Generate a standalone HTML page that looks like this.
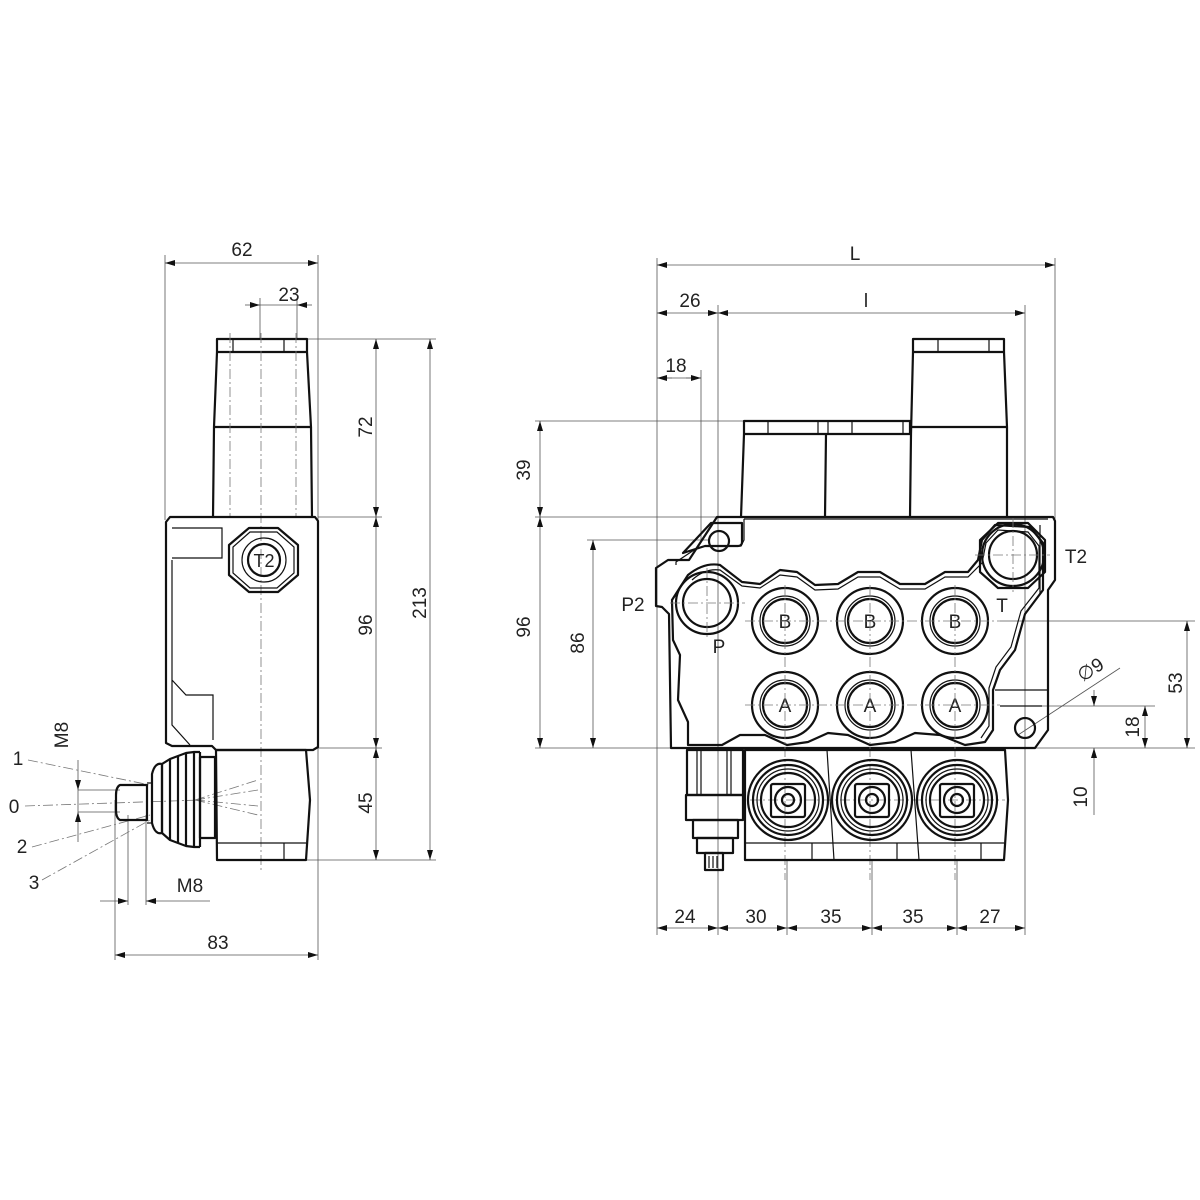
<!DOCTYPE html>
<html><head><meta charset="utf-8"><style>
html,body{margin:0;padding:0;background:#fff;}
svg{display:block}
text{font-family:"Liberation Sans","DejaVu Sans",sans-serif;font-size:19px;fill:#222;}
.o{fill:none;stroke:#111;stroke-width:2.2;stroke-linejoin:round}
.t{fill:none;stroke:#111;stroke-width:1.2}
.d{fill:none;stroke:#555;stroke-width:0.8}
.c{fill:none;stroke:#777;stroke-width:0.8;stroke-dasharray:10 3 2 3}
.w{fill:#fff;stroke:#111;stroke-width:2.2}
</style></head><body>
<svg width="1200" height="1200" viewBox="0 0 1200 1200" xmlns="http://www.w3.org/2000/svg">
<defs>
<marker id="a" viewBox="0 0 10 6" refX="10" refY="3" markerWidth="10" markerHeight="6" orient="auto-start-reverse" markerUnits="userSpaceOnUse"><path d="M0,0L10,3L0,6z" fill="#111"/></marker>
</defs>

<!-- ============ LEFT VIEW ============ -->
<!-- extension lines -->
<g class="d">
<line x1="165" y1="255" x2="165" y2="520"/>
<line x1="318" y1="255" x2="318" y2="960"/>
<line x1="260" y1="298" x2="260" y2="340"/>
<line x1="297" y1="298" x2="297" y2="340"/>
<line x1="307" y1="339" x2="436" y2="339"/>
<line x1="318" y1="517" x2="382" y2="517"/>
<line x1="318" y1="748" x2="382" y2="748"/>
<line x1="307" y1="860" x2="436" y2="860"/>
<line x1="115" y1="800" x2="115" y2="960"/>
<line x1="128" y1="815" x2="128" y2="905"/>
<line x1="146" y1="815" x2="146" y2="905"/>
</g>
<g class="d" marker-start="url(#a)" marker-end="url(#a)">
<line x1="165" y1="263" x2="318" y2="263"/>
<line x1="376" y1="339" x2="376" y2="517"/>
<line x1="376" y1="517" x2="376" y2="748"/>
<line x1="376" y1="748" x2="376" y2="860"/>
<line x1="430" y1="339" x2="430" y2="860"/>
<line x1="115" y1="955" x2="318" y2="955"/>
</g>
<g class="d">
<line x1="245" y1="305" x2="260" y2="305" marker-end="url(#a)"/>
<line x1="312" y1="305" x2="297" y2="305" marker-end="url(#a)"/>
<line x1="260" y1="305" x2="297" y2="305"/>
<line x1="100" y1="901" x2="128" y2="901" marker-end="url(#a)"/>
<line x1="210" y1="901" x2="146" y2="901" marker-end="url(#a)"/>
<line x1="78" y1="760" x2="78" y2="790" marker-end="url(#a)"/>
<line x1="78" y1="842" x2="78" y2="812" marker-end="url(#a)"/>
<line x1="78" y1="790" x2="78" y2="812"/>
<line x1="78" y1="790" x2="120" y2="790"/>
<line x1="78" y1="812" x2="120" y2="812"/>
</g>
<text x="242" y="256" text-anchor="middle">62</text>
<text x="289" y="301" text-anchor="middle">23</text>
<text transform="translate(372,427) rotate(-90)" text-anchor="middle">72</text>
<text transform="translate(372,625) rotate(-90)" text-anchor="middle">96</text>
<text transform="translate(372,803) rotate(-90)" text-anchor="middle">45</text>
<text transform="translate(426,603) rotate(-90)" text-anchor="middle">213</text>
<text x="218" y="949" text-anchor="middle">83</text>
<text x="190" y="892" text-anchor="middle">M8</text>
<text transform="translate(68,735) rotate(-90)" text-anchor="middle">M8</text>
<text x="18" y="765" text-anchor="middle">1</text>
<text x="14" y="813" text-anchor="middle">0</text>
<text x="22" y="853" text-anchor="middle">2</text>
<text x="34" y="889" text-anchor="middle">3</text>
<!-- lever lines -->
<g class="c">
<line x1="28" y1="760" x2="150" y2="785"/>
<line x1="25" y1="806" x2="200" y2="800"/>
<line x1="32" y1="847" x2="150" y2="815"/>
<line x1="42" y1="880" x2="150" y2="820"/>
<line x1="195" y1="800" x2="258" y2="780"/>
<line x1="195" y1="800" x2="258" y2="790"/>
<line x1="195" y1="800" x2="258" y2="806"/>
<line x1="195" y1="800" x2="258" y2="815"/>
</g>
<!-- top cap -->
<path class="o" d="M217,339H307V352H217Z"/>
<path class="t" d="M233,339V352M284,339V352"/>
<path class="o" d="M217,352L214,427H311L307,352"/>
<path class="o" d="M214,427L213,517M311,427L312,517"/>
<g class="c"><line x1="230" y1="333" x2="230" y2="517"/><line x1="296" y1="333" x2="296" y2="517"/><line x1="261" y1="333" x2="261" y2="870"/></g>
<!-- main body -->
<path class="o" d="M170,517H315L318,521V747L313,750H216L212,746H172L166,743V522Z"/>
<path class="t" d="M172,528H222V558H172M172,560V725L190,745M172,680L186,695H213V740"/>
<polygon class="o" points="249,528 278,528 298,545 298,575 278,592 249,592 229,575 229,545"/>
<polygon class="t" points="250,532 277,532 294,547 294,573 277,588 250,588 233,573 233,547"/>
<circle class="t" cx="264" cy="560" r="22"/>
<circle class="o" cx="264" cy="560" r="16"/>
<text x="264" y="567" text-anchor="middle" style="font-size:18px">T2</text>
<!-- lower body -->
<path class="o" d="M216,750H306L310,800L306,860H217Z"/>
<path class="t" d="M217,843H306M284,843V860"/>
<!-- boot -->
<path class="o" d="M200,757H215V838H200Z"/>
<path class="o" d="M152,774Q155,762 162,764V833Q155,835 152,823Z"/>
<path class="o" d="M162,764V833M170,759V840M178,756V843M186,753V846M194,752V847M200,752V847"/>
<path class="o" d="M162,764L170,759L178,756L186,753L194,752L200,752M162,833L170,840L178,843L186,846L194,847L200,847"/>
<path class="o" d="M120,785H147V820H120Q116,818 116,810V795Q116,787 120,785Z"/>
<path class="t" d="M147,783H152V823H147"/>

<!-- ============ RIGHT VIEW ============ -->
<g class="d">
<line x1="657" y1="258" x2="657" y2="935"/>
<line x1="1055" y1="258" x2="1055" y2="520"/>
<line x1="718" y1="305" x2="718" y2="935"/>
<line x1="1025" y1="305" x2="1025" y2="935"/>
<line x1="701" y1="370" x2="701" y2="540"/>
<line x1="535" y1="421" x2="745" y2="421"/>
<line x1="535" y1="517" x2="745" y2="517"/>
<line x1="535" y1="748" x2="1195" y2="748"/>
<line x1="587" y1="540" x2="710" y2="540"/>
<line x1="1000" y1="621" x2="1195" y2="621"/>
<line x1="1030" y1="706" x2="1155" y2="706"/>
<line x1="787" y1="860" x2="787" y2="935"/>
<line x1="872" y1="860" x2="872" y2="935"/>
<line x1="957" y1="860" x2="957" y2="935"/>
<line x1="1018" y1="735" x2="1120" y2="668"/>
</g>
<g class="d" marker-start="url(#a)" marker-end="url(#a)">
<line x1="657" y1="265" x2="1055" y2="265"/>
<line x1="657" y1="313" x2="718" y2="313"/>
<line x1="718" y1="313" x2="1025" y2="313"/>
<line x1="540" y1="421" x2="540" y2="517"/>
<line x1="540" y1="517" x2="540" y2="748"/>
<line x1="593" y1="540" x2="593" y2="748"/>
<line x1="1187" y1="621" x2="1187" y2="748"/>
<line x1="1145" y1="706" x2="1145" y2="748"/>
<line x1="657" y1="928" x2="718" y2="928"/>
<line x1="718" y1="928" x2="787" y2="928"/>
<line x1="787" y1="928" x2="872" y2="928"/>
<line x1="872" y1="928" x2="957" y2="928"/>
<line x1="957" y1="928" x2="1025" y2="928"/>
</g>
<g class="d">
<line x1="657" y1="378" x2="701" y2="378"/>
<line x1="657" y1="378" x2="672" y2="378" marker-start="url(#a)"/>
<line x1="686" y1="378" x2="701" y2="378" marker-end="url(#a)"/>
<line x1="1094" y1="697" x2="1094" y2="706" />
<line x1="1094" y1="690" x2="1094" y2="706" marker-end="url(#a)"/>
<line x1="1094" y1="815" x2="1094" y2="748" marker-end="url(#a)"/>
</g>
<text x="855" y="260" text-anchor="middle">L</text>
<text x="690" y="307" text-anchor="middle">26</text>
<text x="866" y="307" text-anchor="middle">l</text>
<text x="676" y="372" text-anchor="middle">18</text>
<text transform="translate(530,470) rotate(-90)" text-anchor="middle">39</text>
<text transform="translate(530,627) rotate(-90)" text-anchor="middle">96</text>
<text transform="translate(584,643) rotate(-90)" text-anchor="middle">86</text>
<text transform="translate(1182,683) rotate(-90)" text-anchor="middle">53</text>
<text transform="translate(1139,727) rotate(-90)" text-anchor="middle">18</text>
<text transform="translate(1087,797) rotate(-90)" text-anchor="middle">10</text>
<text transform="translate(1094,675) rotate(-33)" text-anchor="middle">∅9</text>
<text x="685" y="923" text-anchor="middle">24</text>
<text x="756" y="923" text-anchor="middle">30</text>
<text x="831" y="923" text-anchor="middle">35</text>
<text x="913" y="923" text-anchor="middle">35</text>
<text x="990" y="923" text-anchor="middle">27</text>
<text x="633" y="611" text-anchor="middle">P2</text>
<text x="1076" y="563" text-anchor="middle">T2</text>
<text x="719" y="653" text-anchor="middle">P</text>
<text x="1002" y="612" text-anchor="middle">T</text>

<!-- top blocks -->
<path class="o" d="M744,421H910V434H744Z"/>
<path class="t" d="M768,421V434M818,421V434M828,421V434M852,421V434M903,421V434"/>
<path class="o" d="M744,434L741,517M826,434L825,517M911,434L910,517"/>
<path class="o" d="M913,339H1004V352H913Z"/>
<path class="t" d="M938,339V352M989,339V352"/>
<path class="o" d="M913,352L911,434M1004,352L1007,427L1007,517M911,427H1007"/>
<!-- main body -->
<path class="o" d="M717,517H1053L1055,521V580L1048,590V730L1035,748H671L669,614L662,607L656,606V568L668,560H689L717,517Z"/>
<path class="t" d="M744,519V540L741,546H705L697,548L676,562V565"/>
<path class="t" d="M744,519H1048M1040,525V594"/>
<path class="o" d="M683,553L711,523H742V542Q742,546 738,546H705Z"/>
<circle class="o" cx="719" cy="541" r="10"/>
<!-- inner contour -->
<path class="o" d="M688,575Q704,562 720,565L742,582L760,584L780,570L797,572L815,585L838,584L858,572L880,572L900,584L925,584L945,572L968,572L978,560L982,540L995,525L1030,527L1043,543V590L1025,614L1015,650L1000,670L993,690V730L985,742L965,745L940,735L915,733L895,742L870,745L848,735L828,733L808,742L787,745L765,735L740,735L722,745H688V722L678,700L680,655L673,640L672,600Z"/>
<path class="t" d="M692,580Q705,568 720,570L742,586L760,588L780,575L797,577L815,590L838,589L858,577L880,577L900,589L925,589L945,577L968,577L982,563L986,543L998,530L1028,532L1039,546V588L1021,611L1011,647L996,667L989,688V726L981,738"/>
<path class="t" d="M995,690H1048M1000,706H1042"/>
<circle class="o" cx="1025" cy="728" r="10"/>
<!-- P and T ports -->
<circle class="o" cx="707" cy="603" r="31"/>
<circle class="o" cx="707" cy="603" r="24"/>
<polygon class="o" points="998,523 1028,523 1045,540 1045,572 1028,588 998,588 980,572 980,540"/>
<circle class="o" cx="1013" cy="555" r="31"/>
<circle class="o" cx="1013" cy="555" r="24"/>
<!-- B, A ports -->
<g>
<circle class="o" cx="785" cy="621" r="33"/><circle class="t" cx="785" cy="621" r="25"/><circle class="o" cx="785" cy="621" r="22"/>
<circle class="o" cx="870" cy="621" r="33"/><circle class="t" cx="870" cy="621" r="25"/><circle class="o" cx="870" cy="621" r="22"/>
<circle class="o" cx="955" cy="621" r="33"/><circle class="t" cx="955" cy="621" r="25"/><circle class="o" cx="955" cy="621" r="22"/>
<circle class="o" cx="785" cy="705" r="33"/><circle class="t" cx="785" cy="705" r="25"/><circle class="o" cx="785" cy="705" r="22"/>
<circle class="o" cx="870" cy="705" r="33"/><circle class="t" cx="870" cy="705" r="25"/><circle class="o" cx="870" cy="705" r="22"/>
<circle class="o" cx="955" cy="705" r="33"/><circle class="t" cx="955" cy="705" r="25"/><circle class="o" cx="955" cy="705" r="22"/>
</g>
<g style="font-size:20px">
<text x="785" y="628" text-anchor="middle">B</text><text x="870" y="628" text-anchor="middle">B</text><text x="955" y="628" text-anchor="middle">B</text>
<text x="785" y="712" text-anchor="middle">A</text><text x="870" y="712" text-anchor="middle">A</text><text x="955" y="712" text-anchor="middle">A</text>
</g>
<g class="c">
<line x1="670" y1="603" x2="745" y2="603"/><line x1="707" y1="568" x2="707" y2="640"/>
<line x1="975" y1="555" x2="1050" y2="555"/><line x1="1013" y1="518" x2="1013" y2="592"/>
<line x1="745" y1="621" x2="1000" y2="621"/><line x1="745" y1="705" x2="1000" y2="705"/>
<line x1="785" y1="585" x2="785" y2="880"/><line x1="870" y1="585" x2="870" y2="880"/><line x1="955" y1="585" x2="955" y2="880"/>
<line x1="750" y1="800" x2="1005" y2="800"/>
</g>
<!-- bottom spool caps -->
<path class="o" d="M745,750H1005L1008,800L1004,860H745Z"/>
<path class="t" d="M827,750L834,860M911,750L919,860M745,843H1004M812,843V860M897,843V860M981,843V860"/>
<g>
<circle class="o" cx="788" cy="800" r="40"/><circle class="o" cx="788" cy="800" r="35"/><circle class="t" cx="788" cy="800" r="31"/><circle class="o" cx="788" cy="800" r="27"/>
<rect class="o" x="771" y="784" width="34" height="33" rx="2"/><circle class="o" cx="788" cy="800" r="13"/><circle class="o" cx="788" cy="800" r="6"/>
<circle class="o" cx="872" cy="800" r="40"/><circle class="o" cx="872" cy="800" r="35"/><circle class="t" cx="872" cy="800" r="31"/><circle class="o" cx="872" cy="800" r="27"/>
<rect class="o" x="855" y="784" width="34" height="33" rx="2"/><circle class="o" cx="872" cy="800" r="13"/><circle class="o" cx="872" cy="800" r="6"/>
<circle class="o" cx="957" cy="800" r="40"/><circle class="o" cx="957" cy="800" r="35"/><circle class="t" cx="957" cy="800" r="31"/><circle class="o" cx="957" cy="800" r="27"/>
<rect class="o" x="940" y="784" width="34" height="33" rx="2"/><circle class="o" cx="957" cy="800" r="13"/><circle class="o" cx="957" cy="800" r="6"/>
</g>
<!-- relief valve screw -->
<path class="o" d="M687,750H743V795H687Z"/>
<path class="t" d="M697,750V795M701,750V795M727,750V795M731,750V795"/>
<path class="o" d="M686,795H743V820H686Z"/>
<path class="o" d="M693,820H738V838H693Z"/>
<path class="o" d="M697,838H733V853H697Z"/>
<path class="o" d="M705,853H723V870H705Z"/>
<path class="t" d="M709,856V868M713,856V868M717,856V868"/>
</svg>
</body></html>
